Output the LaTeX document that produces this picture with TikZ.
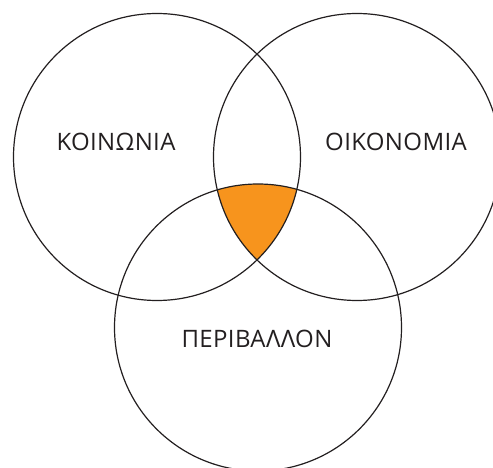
\documentclass[tikz,border=0pt]{standalone}
\usepackage{fontspec}
\setmainfont{Open Sans}[LetterSpace=1.5]
\definecolor{vorange}{HTML}{F7941D}
\definecolor{vline}{HTML}{231F20}
\begin{document}
\begin{tikzpicture}[x=1pt,y=-1pt,
  ring/.style={draw=vline,line width=1.2pt},
  lbl/.style={font=\fontsize{24}{28}\selectfont,text=vline,anchor=base,inner sep=0pt}]
\useasboundingbox (0,0) rectangle (493,468);
\clip (0,0) rectangle (493,468);
\coordinate (cl) at (157,157);
\coordinate (cr) at (357,157);
\coordinate (cb) at (258,327.5);
\begin{scope}
  \clip (cl) circle[radius=143.5];
  \clip (cr) circle[radius=143.5];
  \fill[vorange] (cb) circle[radius=143.5];
\end{scope}
\draw[ring] (cl) circle[radius=143.5];
\draw[ring] (cr) circle[radius=143.5];
\draw[ring] (cb) circle[radius=143.5];
\node[lbl] (koin) at (116,151) {ΚΟΙΝΩΝΙΑ};
\node[lbl] (oik) at (396,151) {ΟΙΚΟΝΟΜΙΑ};
\node[lbl] (per) at (257,347) {ΠΕΡΙΒΑΛΛΟΝ};
\end{tikzpicture}
\end{document}
